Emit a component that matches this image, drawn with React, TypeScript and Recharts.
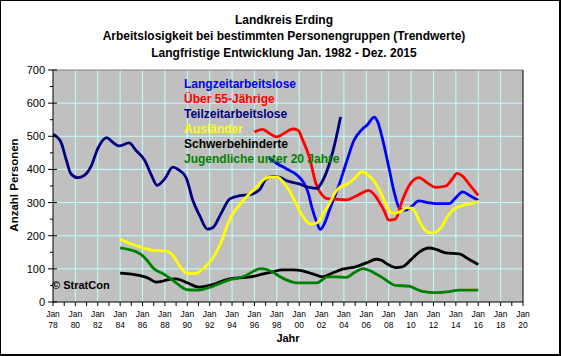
import React from 'react';
import { LineChart, Line, XAxis, YAxis, ReferenceLine, ReferenceArea } from 'recharts';

// ---- data ----
const teilYears = [1978.0, 1978.7, 1979.2, 1979.6, 1980.2, 1980.8, 1981.4, 1982.0, 1982.8, 1983.3, 1983.9, 1984.8, 1985.4, 1986.2, 1986.8, 1987.3, 1988.0, 1988.7, 1989.3, 1989.9, 1990.5, 1991.1, 1991.8, 1992.3, 1993.0, 1993.8, 1994.7, 1995.6, 1996.5, 1997.0, 1997.6, 1998.2, 1998.9, 1999.9, 2000.9, 2001.6, 2002.0, 2002.7, 2003.2, 2003.7];
const teilValues = [506, 483, 427, 387, 375, 382, 409, 463, 496, 483, 471, 480, 458, 427, 382, 352, 372, 407, 397, 375, 306, 261, 220, 225, 266, 311, 321, 324, 340, 370, 378, 377, 366, 357, 346, 343, 360, 417, 480, 558];

const langYears = [1997.3, 1998.0, 1998.8, 1999.8, 2000.4, 2000.8, 2001.1, 2001.5, 2001.9, 2002.3, 2002.7, 2003.6, 2004.3, 2004.9, 2005.6, 2006.1, 2006.7, 2007.0, 2007.4, 2008.0, 2008.5, 2009.0, 2009.5, 2010.1, 2010.7, 2011.5, 2012.2, 2013.4, 2014.0, 2014.6, 2015.3, 2016.0];
const langValues = [435, 418, 403, 383, 360, 330, 290, 247, 219, 240, 277, 357, 430, 488, 520, 535, 558, 545, 498, 408, 330, 281, 277, 290, 305, 300, 297, 297, 315, 332, 320, 307];

const ueber55Years = [1996.0, 1996.7, 1997.3, 1998.0, 1998.7, 1999.4, 1999.9, 2000.3, 2000.9, 2001.5, 2002.0, 2002.4, 2003.3, 2004.2, 2005.0, 2005.5, 2006.2, 2006.8, 2007.1, 2007.6, 2008.0, 2008.6, 2009.2, 2009.8, 2010.7, 2011.5, 2012.2, 2013.1, 2013.7, 2014.1, 2014.6, 2015.2, 2016.0];
const ueber55Values = [513, 521, 510, 498, 510, 522, 518, 490, 438, 357, 325, 313, 310, 308, 318, 327, 337, 320, 305, 275, 247, 250, 305, 350, 375, 358, 346, 350, 372, 388, 380, 355, 322];

const auslYears = [1984.0, 1985.0, 1985.7, 1986.9, 1988.1, 1988.6, 1989.0, 1989.5, 1990.0, 1990.8, 1991.4, 1992.0, 1992.6, 1993.1, 1993.5, 1993.9, 1994.6, 1995.5, 1996.1, 1996.6, 1997.0, 1997.6, 1998.1, 1998.6, 1999.1, 1999.6, 2000.0, 2000.5, 2001.0, 2001.5, 2001.8, 2002.3, 2002.7, 2003.2, 2003.6, 2004.3, 2005.0, 2005.6, 2006.1, 2006.8, 2007.4, 2007.9, 2008.3, 2009.0, 2009.6, 2010.1, 2010.8, 2011.3, 2011.9, 2012.4, 2012.8, 2013.2, 2013.7, 2014.3, 2014.9, 2015.5, 2016.0];
const auslValues = [190, 175, 167, 156, 154, 145, 126, 100, 86, 86, 100, 120, 150, 186, 225, 256, 290, 325, 343, 362, 373, 377, 376, 360, 337, 305, 277, 250, 235, 237, 246, 275, 296, 330, 345, 356, 375, 393, 385, 360, 322, 285, 268, 272, 285, 283, 240, 215, 208, 215, 230, 255, 276, 288, 294, 298, 304];

const schwerYears = [1984.0, 1985.0, 1985.7, 1986.5, 1987.2, 1987.7, 1988.1, 1989.0, 1990.0, 1991.0, 1991.7, 1992.5, 1993.3, 1994.0, 1995.2, 1996.0, 1996.7, 1997.5, 1998.5, 1999.5, 2000.3, 2001.2, 2002.1, 2003.0, 2003.9, 2005.1, 2006.0, 2006.9, 2007.4, 2007.9, 2008.6, 2009.2, 2010.0, 2010.7, 2011.6, 2012.3, 2013.1, 2014.3, 2015.2, 2016.0];
const schwerValues = [87, 84, 80, 72, 60, 62, 66, 70, 58, 45, 48, 55, 65, 71, 74, 78, 84, 90, 97, 97, 94, 85, 76, 88, 99, 107, 118, 129, 125, 114, 104, 106, 128, 150, 163, 158, 148, 145, 128, 113];

const jugendYears = [1984.0, 1984.8, 1985.4, 1986.0, 1986.3, 1987.0, 1987.9, 1988.7, 1989.3, 1990.0, 1991.0, 1991.6, 1992.2, 1993.0, 1993.7, 1994.5, 1995.2, 1996.0, 1996.5, 1997.1, 1997.7, 1998.3, 1998.9, 1999.8, 2001.0, 2001.6, 2002.1, 2002.5, 2003.4, 2004.2, 2004.9, 2005.7, 2006.3, 2006.9, 2007.5, 2008.0, 2008.6, 2009.8, 2010.4, 2011.0, 2012.2, 2013.4, 2014.3, 2016.0];
const jugendValues = [163, 158, 152, 140, 130, 101, 84, 66, 50, 37, 36, 40, 46, 57, 66, 72, 79, 94, 101, 98, 89, 76, 66, 58, 58, 58, 68, 76, 76, 74, 88, 101, 95, 84, 72, 60, 50, 48, 40, 32, 28, 31, 36, 36];

const titleLines = ['Landkreis Erding', 'Arbeitslosigkeit bei bestimmten Personengruppen (Trendwerte)', 'Langfristige Entwicklung Jan. 1982 - Dez. 2015'];
const seriesNames = ['Langzeitarbeitslose', 'Über 55-Jährige', 'Teilzeitarbeitslose', 'Ausländer', 'Schwerbehinderte', 'Jugendliche unter 20 Jahre'];
const seriesColors = ['#0000FF', '#FF0000', '#000080', '#FFFF00', '#000000', '#008000'];

const xTicks: number[] = [];
for (let y = 1978; y <= 2020; y++) xTicks.push(y);
const yTicks: number[] = [];
for (let v = 0; v <= 700; v += 50) yTicks.push(v);
const gridYears = xTicks.filter((y) => y % 2 === 0 && y > 1978 && y < 2020);
const gridValues = [100, 200, 300, 400, 500, 600];

const toData = (xs: number[], vs: number[]) => xs.map((x, i) => ({ x, v: vs[i] }));
const series = [
  { name: seriesNames[0], color: seriesColors[0], data: toData(langYears, langValues) },
  { name: seriesNames[1], color: seriesColors[1], data: toData(ueber55Years, ueber55Values) },
  { name: seriesNames[2], color: seriesColors[2], data: toData(teilYears, teilValues) },
  { name: seriesNames[3], color: seriesColors[3], data: toData(auslYears, auslValues) },
  { name: seriesNames[4], color: seriesColors[4], data: toData(schwerYears, schwerValues) },
  { name: seriesNames[5], color: seriesColors[5], data: toData(jugendYears, jugendValues) },
];

const FONT = '"Liberation Sans", Arial, sans-serif';

const LeftTick = (props: any) => {
  const { x, y, payload } = props;
  const v = payload.value;
  const major = v % 100 === 0;
  return (
    <g>
      <line x1={major ? x - 5 : x - 3} x2={major ? x + 4 : x} y1={y} y2={y} stroke="#000" />
      {major && (
        <text x={x - 8} y={y + 4} textAnchor="end" fontSize={11} fontFamily={FONT} fill="#000">{v}</text>
      )}
    </g>
  );
};

const RightTick = (props: any) => {
  const { x, y, payload } = props;
  const v = payload.value;
  const major = v % 100 === 0;
  return (
    <g>
      <line x1={major ? x - 4 : x} x2={major ? x + 5 : x + 3} y1={y} y2={y} stroke="#000" />
      {major && (
        <text x={x + 8} y={y + 4} textAnchor="start" fontSize={11} fontFamily={FONT} fill="#000">{v}</text>
      )}
    </g>
  );
};

const BottomTick = (props: any) => {
  const { x, y, payload } = props;
  const yr = payload.value as number;
  const labeled = yr % 2 === 0;
  return (
    <g>
      <line x1={x} x2={x} y1={y} y2={y + 4} stroke="#000" />
      {labeled && (
        <>
          <text x={x} y={y + 15} textAnchor="middle" fontSize={8.5} fontFamily={FONT} fill="#000">Jan</text>
          <text x={x} y={y + 26} textAnchor="middle" fontSize={8.5} fontFamily={FONT} fill="#000">{String(yr % 100).padStart(2, '0')}</text>
        </>
      )}
    </g>
  );
};

export default function App() {
  return (
    <div style={{ position: 'absolute', left: 0, top: 0, width: 561, height: 356, background: '#fff', fontFamily: FONT }}>
      <div style={{ position: 'absolute', left: 0, top: 0 }}>
        <LineChart width={561} height={356} margin={{ top: 70, right: 1, bottom: 10, left: 8 }}>
          <XAxis
            type="number"
            dataKey="x"
            domain={[1978, 2020]}
            ticks={xTicks}
            interval={0}
            tickLine={false}
            tickSize={0}
            tickMargin={0}
            tick={<BottomTick />}
            axisLine={{ stroke: '#000' }}
            height={44}
            allowDataOverflow
          />
          <YAxis
            yAxisId="l"
            type="number"
            domain={[0, 700]}
            ticks={yTicks}
            interval={0}
            tickLine={false}
            tickSize={0}
            tickMargin={0}
            tick={<LeftTick />}
            axisLine={{ stroke: '#000' }}
            width={45}
          />
          <YAxis
            yAxisId="r"
            orientation="right"
            type="number"
            domain={[0, 700]}
            ticks={yTicks}
            interval={0}
            tickLine={false}
            tickSize={0}
            tickMargin={0}
            tick={<RightTick />}
            axisLine={{ stroke: '#000' }}
            width={37}
          />
          <ReferenceArea yAxisId="l" x1={1978} x2={2020} y1={0} y2={700} fill="#C0C0C0" fillOpacity={1} stroke="none" />
          {gridYears.map((g) => (
            <ReferenceLine key={'gx' + g} yAxisId="l" x={g} stroke="#C0FFFF" strokeWidth={1} />
          ))}
          {gridValues.map((g) => (
            <ReferenceLine key={'gy' + g} yAxisId="l" y={g} stroke="#C0FFFF" strokeWidth={1} />
          ))}
          <ReferenceLine yAxisId="l" y={700} stroke="#808080" strokeWidth={1} />
          {series.map((s) => (
            <Line
              key={s.name}
              yAxisId="l"
              data={s.data}
              dataKey="v"
              name={s.name}
              type="monotone"
              stroke={s.color}
              strokeWidth={2.8}
              dot={false}
              activeDot={false}
              isAnimationActive={false}
            />
          ))}
        </LineChart>
      </div>
      <svg width={561} height={356} style={{ position: 'absolute', left: 0, top: 0, pointerEvents: 'none' }}>
        {titleLines.map((t, i) => (
          <text key={t} x={284} y={23.5 + i * 16.5} textAnchor="middle" fontSize={12} fontWeight="bold" fontFamily={FONT} fill="#000">{t}</text>
        ))}
        {seriesNames.map((n, i) => (
          <text key={n} x={184} y={87.5 + i * 15} fontSize={12} fontWeight="bold" fontFamily={FONT} fill={seriesColors[i]}>{n}</text>
        ))}
        <text x={52} y={289} fontSize={11} fontWeight="bold" fontFamily={FONT} fill="#000">© StratCon</text>
        <text x={288} y={342} textAnchor="middle" fontSize={11} fontWeight="bold" fontFamily={FONT} fill="#000">Jahr</text>
        <text x={18} y={185} textAnchor="middle" fontSize={11.5} fontWeight="bold" fontFamily={FONT} fill="#000" transform="rotate(-90 18 185)">Anzahl Personen</text>
      </svg>
      <div style={{ position: 'absolute', left: 0, top: 0, width: 561, height: 356, boxSizing: 'border-box', borderTop: '1px solid #000', borderLeft: '1px solid #000', borderRight: '2px solid #000', borderBottom: '2px solid #000', pointerEvents: 'none' }} />
    </div>
  );
}
